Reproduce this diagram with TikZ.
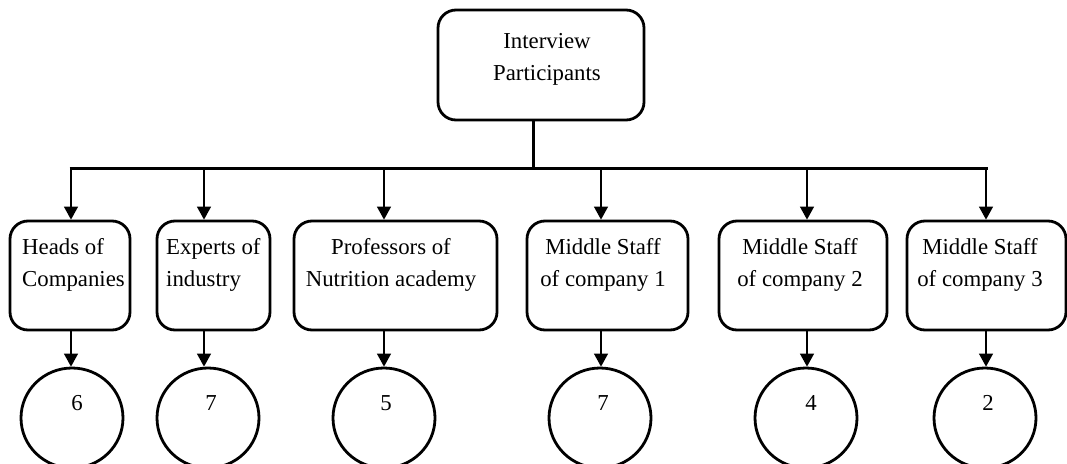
\documentclass[tikz,border=0pt]{standalone}
\usepackage{fontspec}
\setmainfont{Liberation Serif}
\usetikzlibrary{arrows.meta,shapes.geometric}
\tikzset{
  box/.style={draw=black, line width=2.8pt, rounded corners=18pt, inner sep=0pt},
  txt/.style={inner sep=0pt, font=\fontsize{22.8}{32}\selectfont},
  circ/.style={draw=black, ellipse, line width=2.8pt, inner sep=0pt, minimum width=102pt, minimum height=100pt},
  arr/.style={line width=1.3pt, -{Triangle[width=14pt,length=13pt]}},
  thick line/.style={line width=3pt}
}
\begin{document}
\begin{tikzpicture}[x=1pt,y=1pt]
\path[use as bounding box, clip] (0,0) rectangle (1067,-463);
\fill[white] (0,0) rectangle (1067,-463);
% top box
\node[box, minimum width=206pt, minimum height=110pt] (top) at (541,-65) {};
\node[txt, align=center] (ttop) at (547,-59) {Interview\\Participants};
% bar coordinates
\coordinate (bM) at (533,-168);
\coordinate (a1) at (71,-168);
\coordinate (a2) at (204,-168);
\coordinate (a3) at (384,-168);
\coordinate (a4) at (601,-168);
\coordinate (a5) at (807,-168);
\coordinate (a6) at (986,-168);
\draw[thick line] (top.south -| bM) -- (bM);
\draw[thick line] ([xshift=-1.5pt]a1) -- ([xshift=1.5pt]a6);
% lower boxes
\node[box, minimum width=120pt, minimum height=109pt] (b1) at (70,-275.5) {};
\node[box, minimum width=113pt, minimum height=109pt] (b2) at (213.5,-275.5) {};
\node[box, minimum width=203pt, minimum height=109pt] (b3) at (395.5,-275.5) {};
\node[box, minimum width=161pt, minimum height=109pt] (b4) at (607.5,-275.5) {};
\node[box, minimum width=168pt, minimum height=109pt] (b5) at (803,-275.5) {};
\node[box, minimum width=159pt, minimum height=109pt] (b6) at (986.5,-275.5) {};
\node[txt, align=left, anchor=west] (t1) at (22,-265) {Heads of\\Companies};
\node[txt, align=left, anchor=west] (t2) at (166,-265) {Experts of\\industry};
\node[txt, align=center] (t3) at (391,-265) {Professors of\\Nutrition academy};
\node[txt, align=center] (t4) at (603,-265) {Middle Staff\\of company 1};
\node[txt, align=center] (t5) at (800,-265) {Middle Staff\\of company 2};
\node[txt, align=center] (t6) at (980,-265) {Middle Staff\\of company 3};
% circles
\node[circ] (e1) at (72,-418) {};
\node[circ] (e2) at (208,-418) {};
\node[circ] (e3) at (384,-418) {};
\node[circ] (e4) at (600,-418) {};
\node[circ] (e5) at (806,-418) {};
\node[circ] (e6) at (985,-418) {};
\node[txt] (n1) at (77,-403) {6};
\node[txt] (n2) at (211,-403) {7};
\node[txt] (n3) at (386,-403) {5};
\node[txt] (n4) at (603,-403) {7};
\node[txt] (n5) at (811,-403) {4};
\node[txt] (n6) at (988,-403) {2};
% arrows
\foreach \i in {1,...,6}{
  \draw[arr] (a\i) -- (a\i |- b\i.north);
  \draw[arr] (a\i |- b\i.south) -- (a\i |- e\i.north);
}
\end{tikzpicture}
\end{document}
